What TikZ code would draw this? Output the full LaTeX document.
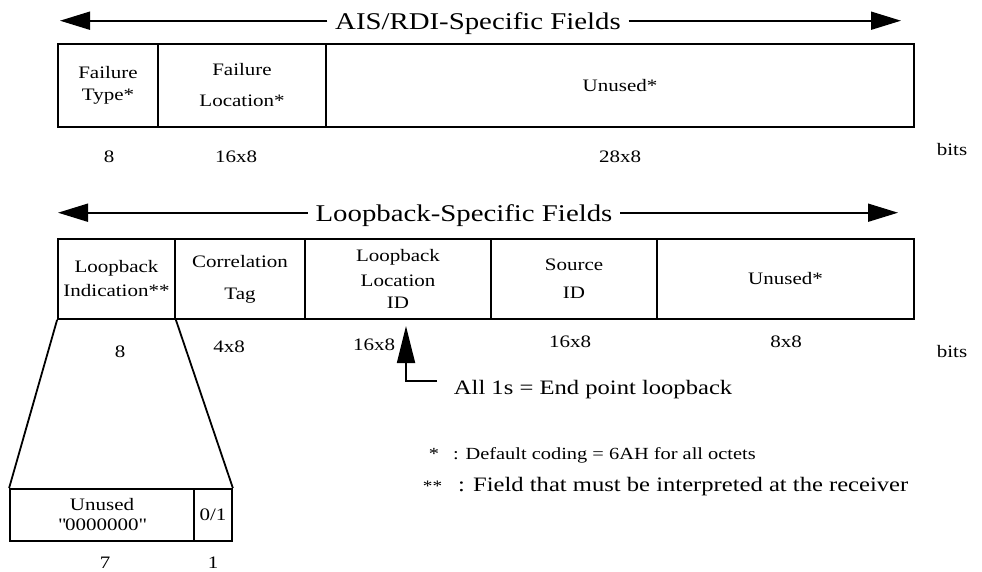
\documentclass[tikz,border=0pt]{standalone}
\usepackage{fontspec}
\setmainfont[FakeStretch=1.2]{Liberation Serif}
\usetikzlibrary{arrows.meta}
\newcommand\fsLbl{\fontsize{17.5}{22}\selectfont}
\newcommand\fsTtl{\fontsize{24}{28}\selectfont}
\newcommand\fsBig{\fontsize{20.5}{24}\selectfont}
\newcommand\fsNote{\fontsize{17}{20}\selectfont}
\begin{document}
\begin{tikzpicture}[x=1pt,y=-1pt,line width=1.8pt,
  field/.style={draw,line width=1.8pt,inner sep=0pt,align=center,font=\fsLbl},
  lbl/.style={inner sep=0pt,font=\fsLbl,anchor=base},
  ttl/.style={inner sep=7pt,font=\fsTtl,anchor=base},
  bigarrow/.style={line width=1.8pt,-{Triangle[length=30pt,width=18pt]}},
  uparrow/.style={line width=1.8pt,-{Triangle[length=37pt,width=18pt]}}]
\useasboundingbox (0,0) rectangle (982,571);

% --- AIS/RDI title
\node[ttl] (t1) at (478,29) {AIS/RDI-Specific Fields};
\coordinate (t1l) at (60,20.7);
\coordinate (t1r) at (901,20.7);
\draw[bigarrow] (t1.west |- t1l) -- (t1l);
\draw[bigarrow] (t1.east |- t1r) -- (t1r);

% --- AIS/RDI fields
\node[field,minimum width=100pt,minimum height=83pt] (ft) at (108,85.5) {Failure\\Type*};
\node[field,minimum width=168pt,minimum height=83pt] (fl) at (242,85.5) {Failure\\[9pt]Location*};
\node[field,minimum width=588pt,minimum height=83pt] (fu) at (620,85.5) {Unused*};

\node[lbl] (b1) at (109,162) {8};
\node[lbl] (b2) at (236,162) {16x8};
\node[lbl] (b3) at (620,162) {28x8};
\node[lbl] (b4) at (952,155) {bits};

% --- Loopback title
\node[ttl] (t2) at (464,221) {Loopback-Specific Fields};
\coordinate (t2l) at (58,212.7);
\coordinate (t2r) at (898,212.7);
\draw[bigarrow] (t2.west |- t2l) -- (t2l);
\draw[bigarrow] (t2.east |- t2r) -- (t2r);

% --- Loopback fields
\node[field,minimum width=117pt,minimum height=80pt] (li) at (116.5,279) {Loopback\\[2pt]Indication**};
\node[field,minimum width=130pt,minimum height=80pt] (ct) at (240,279) {Correlation\\[10pt]Tag};
\node[field,minimum width=186pt,minimum height=80pt] (ll) at (398,279) {Loopback\\[3pt]Location\\ID};
\node[field,minimum width=166pt,minimum height=80pt] (si) at (574,279) {Source\\[6pt]ID};
\node[field,minimum width=257pt,minimum height=80pt] (lu) at (785.5,279) {Unused*};

\node[lbl] (c1) at (120,357) {8};
\node[lbl] (c2) at (229,352) {4x8};
\node[lbl] (c3) at (374,350) {16x8};
\node[lbl] (c4) at (570,347) {16x8};
\node[lbl] (c5) at (786,347) {8x8};
\node[lbl] (c6) at (952,357) {bits};

% --- end point loopback pointer
\node[inner sep=0pt,font=\fsBig,anchor=base west] (al) at (453,394) {All 1s = End point loopback};
\coordinate (ab) at (437,381);
\coordinate (ac) at (406,381);
\coordinate (at) at (406,326);
\draw[uparrow] (ab) -- (ac) -- (at);

% --- notes
\node[inner sep=0pt,font=\fsNote,anchor=base west] (n1) at (428,459) {*\hspace{14pt}: Default coding = 6AH for all octets};
\node[inner sep=0pt,font=\fsBig,anchor=base west] (n2) at (422,491) {{\fontsize{16}{16}\selectfont **}\hspace{16pt}: Field that must be interpreted at the receiver};

% --- expansion of loopback indication
\node[field,minimum width=184pt,minimum height=52pt] (bu) at (102,515) {Unused\\[-2pt]\textquotedbl0000000\textquotedbl};
\node[field,minimum width=38pt,minimum height=52pt] (bb) at (213,515) {0/1};
\draw (li.south west) -- (bu.north west);
\draw (li.south east) -- (bb.north east);

\node[lbl] (d1) at (105,568) {7};
\node[lbl] (d2) at (213,568) {1};
\end{tikzpicture}
\end{document}
